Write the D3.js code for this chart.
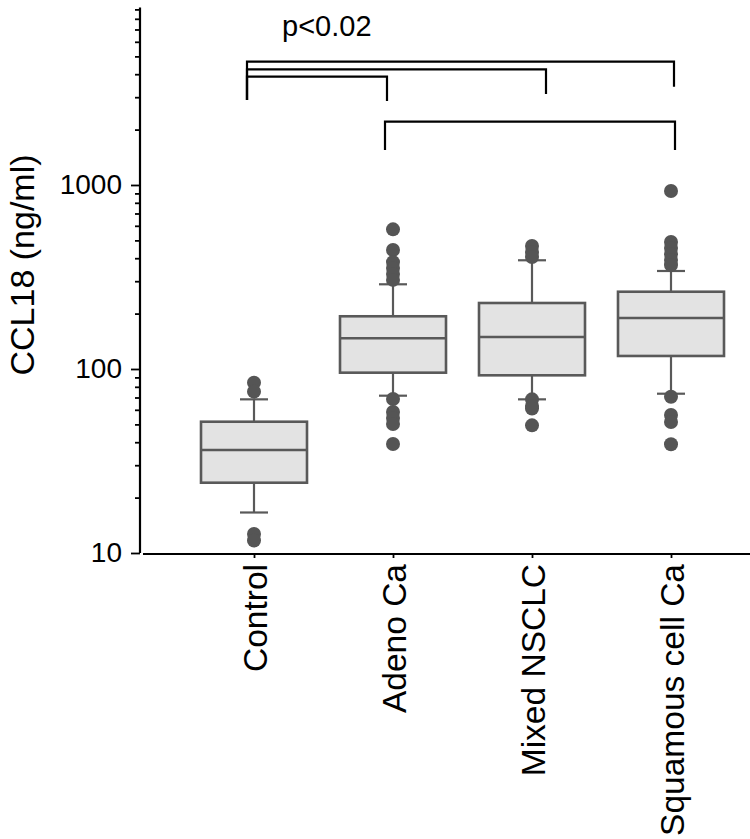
<!DOCTYPE html>
<html>
<head>
<meta charset="utf-8">
<script src="https://cdn.jsdelivr.net/npm/d3@7"></script>
<style>
  html, body { margin: 0; padding: 0; background: #fff; }
  svg { display: block; font-family: "Liberation Sans", Arial, sans-serif; }
</style>
</head>
<body>
<svg id="chart" width="750" height="839"></svg>
<script>
// ---- data ----
const categories = ["Control", "Adeno Ca", "Mixed NSCLC", "Squamous cell Ca"];
const whiskerLow = [16.6, 71.6, 68.4, 73.4];
const q1 = [24.1, 95.5, 92.4, 117.7];
const medians = [36.3, 146.9, 149.3, 189.3];
const q3 = [51.7, 193.4, 228.4, 263];
const whiskerHigh = [68.4, 288.6, 389.8, 340.9];
const outliersControl = [84.2, 75.3, 12.7, 11.7];
const outliersAdeno = [574, 443, 381, 354, 328, 305, 68.7, 58.4, 54.2, 50.2, 39.1];
const outliersMixed = [466, 432, 406, 68.4, 63, 61, 49.4];
const outliersSquamous = [927, 490, 455, 422, 391, 367, 70.7, 56.2, 51.5, 39];
const yTickLabels = [10, 100, 1000];
const yLabel = "CCL18 (ng/ml)";
const pText = "p<0.02";
const bracketFrom = ["Control", "Control", "Control", "Adeno Ca"];
const bracketTo = ["Squamous cell Ca", "Mixed NSCLC", "Adeno Ca", "Squamous cell Ca"];

const outliers = [outliersControl, outliersAdeno, outliersMixed, outliersSquamous];
const boxes = categories.map((c, i) => ({
  cat: c, lo: whiskerLow[i], q1: q1[i], med: medians[i], q3: q3[i], hi: whiskerHigh[i], out: outliers[i]
}));

// ---- layout ----
const svg = d3.select("#chart");
const axisX = 140, axisBottom = 553;
const x = d3.scalePoint().domain(categories).range([254, 671]);
const y = d3.scaleLog().domain([10, 9000]).range([axisBottom, 9.4]);
const boxW = 106, capW = 28;
const boxStroke = "#595959", boxFill = "#e3e3e3", dotFill = "#555555";

// y axis
const yAxis = d3.axisLeft(y).ticks(10).tickSize(5).tickSizeOuter(0)
  .tickFormat(d => yTickLabels.includes(d) ? d : "");
const gy = svg.append("g").attr("transform", `translate(${axisX},0)`).call(yAxis);
gy.select(".domain").attr("stroke", "#000").attr("stroke-width", 2.2)
  .attr("d", `M0,${y(9000) - 2}V${axisBottom}`);
gy.selectAll(".tick line").attr("stroke", "#000").attr("stroke-width", 1.8)
  .attr("x2", d => yTickLabels.includes(d) ? -9 : -5);
gy.selectAll(".tick text").attr("x", -18).attr("font-size", 28)
  .attr("fill", "#000").attr("font-family", "Liberation Sans, Arial, sans-serif");

// x axis
const xAxis = d3.axisBottom(x).tickSize(4).tickSizeOuter(0).tickPadding(8);
const gx = svg.append("g").attr("transform", `translate(0,${axisBottom + 1})`).call(xAxis);
gx.select(".domain").attr("d", `M${axisX + 3},0H750`).attr("stroke", "#000").attr("stroke-width", 2.2);
gx.selectAll(".tick line").attr("stroke", "#000").attr("stroke-width", 1.8);
gx.selectAll(".tick text")
  .attr("font-size", 33.5).attr("fill", "#000")
  .attr("font-family", "Liberation Sans, Arial, sans-serif")
  .attr("transform", "rotate(-90)")
  .attr("text-anchor", "end")
  .attr("x", -10).attr("y", 0).attr("dy", "0.36em");

// y label
svg.append("text")
  .attr("transform", `translate(34,265) rotate(-90)`)
  .attr("text-anchor", "middle")
  .attr("font-size", 34)
  .attr("fill", "#000")
  .text(yLabel);

// boxes
const g = svg.append("g");
const bx = g.selectAll("g.box").data(boxes).join("g").attr("class", "box");
// whiskers
bx.append("line").attr("x1", d => x(d.cat)).attr("x2", d => x(d.cat))
  .attr("y1", d => y(d.hi)).attr("y2", d => y(d.q3))
  .attr("stroke", boxStroke).attr("stroke-width", 2.2);
bx.append("line").attr("x1", d => x(d.cat)).attr("x2", d => x(d.cat))
  .attr("y1", d => y(d.q1)).attr("y2", d => y(d.lo))
  .attr("stroke", boxStroke).attr("stroke-width", 2.2);
bx.append("line").attr("x1", d => x(d.cat) - capW / 2).attr("x2", d => x(d.cat) + capW / 2)
  .attr("y1", d => y(d.hi)).attr("y2", d => y(d.hi))
  .attr("stroke", boxStroke).attr("stroke-width", 2.2);
bx.append("line").attr("x1", d => x(d.cat) - capW / 2).attr("x2", d => x(d.cat) + capW / 2)
  .attr("y1", d => y(d.lo)).attr("y2", d => y(d.lo))
  .attr("stroke", boxStroke).attr("stroke-width", 2.2);
// box
bx.append("rect").attr("x", d => x(d.cat) - boxW / 2).attr("width", boxW)
  .attr("y", d => y(d.q3)).attr("height", d => y(d.q1) - y(d.q3))
  .attr("fill", boxFill).attr("stroke", boxStroke).attr("stroke-width", 2.6);
bx.append("line").attr("x1", d => x(d.cat) - boxW / 2).attr("x2", d => x(d.cat) + boxW / 2)
  .attr("y1", d => y(d.med)).attr("y2", d => y(d.med))
  .attr("stroke", boxStroke).attr("stroke-width", 2.6);
// outliers
bx.selectAll("circle").data(d => d.out.map(v => ({ cat: d.cat, v }))).join("circle")
  .attr("cx", d => x(d.cat)).attr("cy", d => y(d.v)).attr("r", 7)
  .attr("fill", dotFill);

// significance brackets
const levels = [61.7, 69.3, 76.7, 121.7];
const leftNudge = [-7, -7, -7, -8];
const rightNudge = [3, 14, -6, 4];
const rightDrop = [86.7, 94, 101, 150];
const leftDrop = [100, 100, 100, 150];
const br = svg.append("g").attr("fill", "none").attr("stroke", "#000").attr("stroke-width", 2.2);
bracketFrom.forEach((f, i) => {
  const x1 = x(f) + leftNudge[i], x2 = x(bracketTo[i]) + rightNudge[i];
  br.append("path").attr("d", `M${x1},${leftDrop[i]}V${levels[i]}H${x2}V${rightDrop[i]}`);
});
svg.append("text").attr("x", 282).attr("y", 36).attr("font-size", 29).attr("fill", "#000").text(pText);
</script>
</body>
</html>
